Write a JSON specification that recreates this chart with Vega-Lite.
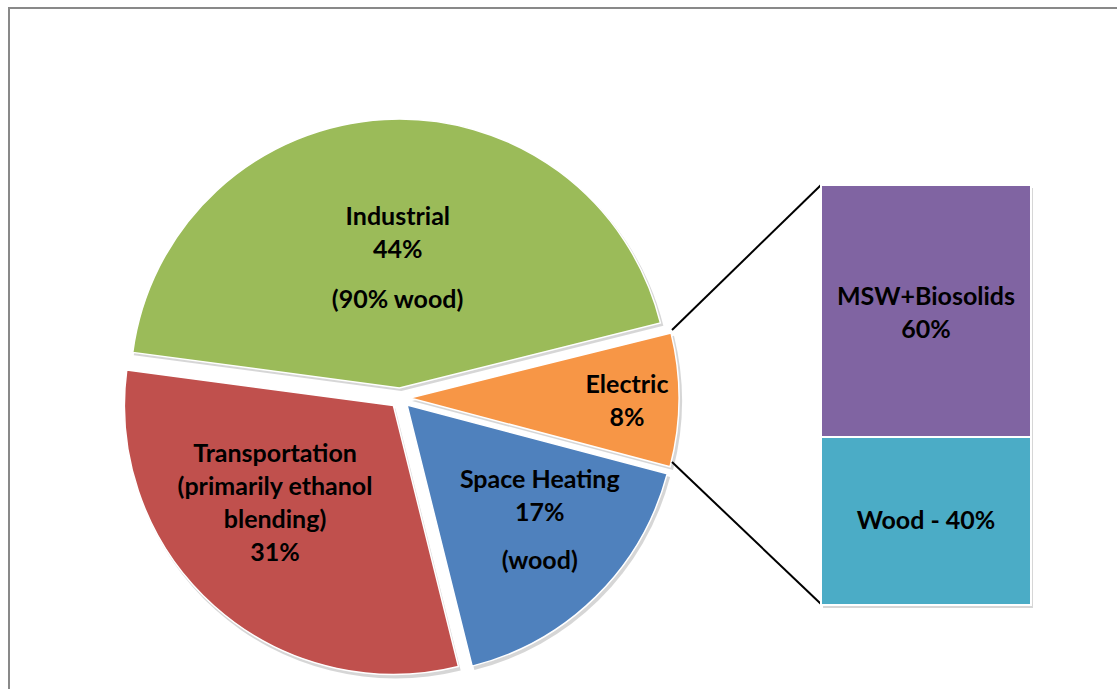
{
  "$schema": "https://vega.github.io/schema/vega-lite/v6.json",
  "width": 1117,
  "height": 689,
  "autosize": {"type": "fit", "contains": "padding"},
  "padding": {"left": 9, "top": 8, "right": -20, "bottom": -20},
  "background": "white",
  "config": {"view": {"stroke": "#898989", "strokeWidth": 2}},
  "datasets": {
    "pie": [
      {"sector": "Electric", "share": 8, "o": 1, "label": "Electric\n8%", "note": ""},
      {"sector": "Space Heating", "share": 17, "o": 2, "label": "Space Heating\n17%", "note": "(wood)"},
      {"sector": "Transportation", "share": 31, "o": 3, "label": "Transportation\n(primarily ethanol\nblending)\n31%", "note": ""},
      {"sector": "Industrial", "share": 44, "o": 4, "label": "Industrial\n44%", "note": "(90% wood)"}
    ],
    "electric": [
      {"group": "Electric", "sector": "Wood", "share": 40, "o": 1, "label": "Wood - 40%"},
      {"group": "Electric", "sector": "MSW+Biosolids", "share": 60, "o": 2, "label": "MSW+Biosolids\n60%"}
    ]
  },
  "layer": [
    {
      "data": {"name": "pie"},
      "mark": {"type": "arc", "x": 403, "y": 393, "outerRadius": 270, "color": "black", "strokeWidth": 0},
      "encoding": {
        "theta": {"field": "share", "type": "quantitative", "stack": true, "scale": {"domain": [0, 100], "range": [1.3265, 7.6097]}},
        "order": {"field": "o"},
        "opacity": {"condition": {"test": "datum.sector === 'Electric'", "value": 0.16}, "value": 0}
      }
    },
    {
      "data": {"name": "pie"},
      "mark": {"type": "arc", "x": 400.1, "y": 400.1, "outerRadius": 270, "color": "black", "strokeWidth": 0},
      "encoding": {
        "theta": {"field": "share", "type": "quantitative", "stack": true, "scale": {"domain": [0, 100], "range": [1.3265, 7.6097]}},
        "order": {"field": "o"},
        "opacity": {"condition": {"test": "datum.sector === 'Space Heating'", "value": 0.16}, "value": 0}
      }
    },
    {
      "data": {"name": "pie"},
      "mark": {"type": "arc", "x": 386.4, "y": 400.5, "outerRadius": 270, "color": "black", "strokeWidth": 0},
      "encoding": {
        "theta": {"field": "share", "type": "quantitative", "stack": true, "scale": {"domain": [0, 100], "range": [1.3265, 7.6097]}},
        "order": {"field": "o"},
        "opacity": {"condition": {"test": "datum.sector === 'Transportation'", "value": 0.16}, "value": 0}
      }
    },
    {
      "data": {"name": "pie"},
      "mark": {"type": "arc", "x": 392.4, "y": 383, "outerRadius": 270, "color": "black", "strokeWidth": 0},
      "encoding": {
        "theta": {"field": "share", "type": "quantitative", "stack": true, "scale": {"domain": [0, 100], "range": [1.3265, 7.6097]}},
        "order": {"field": "o"},
        "opacity": {"condition": {"test": "datum.sector === 'Industrial'", "value": 0.16}, "value": 0}
      }
    },
    {
      "data": {"name": "pie"},
      "mark": {"type": "arc", "x": 401, "y": 390, "outerRadius": 269, "stroke": "white", "strokeWidth": 1.5},
      "encoding": {
        "theta": {"field": "share", "type": "quantitative", "stack": true, "scale": {"domain": [0, 100], "range": [1.3265, 7.6097]}},
        "order": {"field": "o"},
        "color": {"field": "sector", "type": "nominal", "scale": {"domain": ["Electric", "Space Heating", "Transportation", "Industrial", "MSW+Biosolids", "Wood"], "range": ["#F79646", "#4F81BD", "#C0504D", "#9BBB59", "#8064A2", "#4BACC6"]}, "legend": null},
        "opacity": {"condition": {"test": "datum.sector === 'Electric'", "value": 1}, "value": 0}
      }
    },
    {
      "data": {"name": "pie"},
      "mark": {"type": "arc", "x": 398.1, "y": 397.1, "outerRadius": 269, "stroke": "white", "strokeWidth": 1.5},
      "encoding": {
        "theta": {"field": "share", "type": "quantitative", "stack": true, "scale": {"domain": [0, 100], "range": [1.3265, 7.6097]}},
        "order": {"field": "o"},
        "color": {"field": "sector", "type": "nominal", "scale": {"domain": ["Electric", "Space Heating", "Transportation", "Industrial", "MSW+Biosolids", "Wood"], "range": ["#F79646", "#4F81BD", "#C0504D", "#9BBB59", "#8064A2", "#4BACC6"]}, "legend": null},
        "opacity": {"condition": {"test": "datum.sector === 'Space Heating'", "value": 1}, "value": 0}
      }
    },
    {
      "data": {"name": "pie"},
      "mark": {"type": "arc", "x": 384.4, "y": 397.5, "outerRadius": 269, "stroke": "white", "strokeWidth": 1.5},
      "encoding": {
        "theta": {"field": "share", "type": "quantitative", "stack": true, "scale": {"domain": [0, 100], "range": [1.3265, 7.6097]}},
        "order": {"field": "o"},
        "color": {"field": "sector", "type": "nominal", "scale": {"domain": ["Electric", "Space Heating", "Transportation", "Industrial", "MSW+Biosolids", "Wood"], "range": ["#F79646", "#4F81BD", "#C0504D", "#9BBB59", "#8064A2", "#4BACC6"]}, "legend": null},
        "opacity": {"condition": {"test": "datum.sector === 'Transportation'", "value": 1}, "value": 0}
      }
    },
    {
      "data": {"name": "pie"},
      "mark": {"type": "arc", "x": 390.4, "y": 380, "outerRadius": 269, "stroke": "white", "strokeWidth": 1.5},
      "encoding": {
        "theta": {"field": "share", "type": "quantitative", "stack": true, "scale": {"domain": [0, 100], "range": [1.3265, 7.6097]}},
        "order": {"field": "o"},
        "color": {"field": "sector", "type": "nominal", "scale": {"domain": ["Electric", "Space Heating", "Transportation", "Industrial", "MSW+Biosolids", "Wood"], "range": ["#F79646", "#4F81BD", "#C0504D", "#9BBB59", "#8064A2", "#4BACC6"]}, "legend": null},
        "opacity": {"condition": {"test": "datum.sector === 'Industrial'", "value": 1}, "value": 0}
      }
    },
    {
      "data": {"name": "pie"},
      "mark": {"type": "text", "x": 391, "y": 390, "radius": 227, "dy": -15, "font": "Lato", "fontWeight": "bold", "fontSize": 25, "lineHeight": 33, "lineBreak": "\n", "color": "black"},
      "encoding": {
        "theta": {"field": "share", "type": "quantitative", "stack": true, "scale": {"domain": [0, 100], "range": [1.3265, 7.6097]}},
        "order": {"field": "o"},
        "text": {"condition": {"test": "datum.sector === 'Electric'", "field": "label", "type": "nominal"}, "value": ""}
      }
    },
    {
      "data": {"name": "pie"},
      "mark": {"type": "text", "x": 391, "y": 390, "radius": 172, "dx": 19, "dy": -40, "font": "Lato", "fontWeight": "bold", "fontSize": 25, "lineHeight": 33, "lineBreak": "\n", "color": "black"},
      "encoding": {
        "theta": {"field": "share", "type": "quantitative", "stack": true, "scale": {"domain": [0, 100], "range": [1.3265, 7.6097]}},
        "order": {"field": "o"},
        "text": {"condition": {"test": "datum.sector === 'Space Heating'", "field": "label", "type": "nominal"}, "value": ""}
      }
    },
    {
      "data": {"name": "pie"},
      "mark": {"type": "text", "x": 391, "y": 390, "radius": 172, "dx": 19, "dy": 41, "font": "Lato", "fontWeight": "bold", "fontSize": 25, "lineHeight": 33, "lineBreak": "\n", "color": "black"},
      "encoding": {
        "theta": {"field": "share", "type": "quantitative", "stack": true, "scale": {"domain": [0, 100], "range": [1.3265, 7.6097]}},
        "order": {"field": "o"},
        "text": {"condition": {"test": "datum.sector === 'Space Heating'", "field": "note", "type": "nominal"}, "value": ""}
      }
    },
    {
      "data": {"name": "pie"},
      "mark": {"type": "text", "x": 391, "y": 390, "radius": 162, "dx": -17, "dy": -65, "font": "Lato", "fontWeight": "bold", "fontSize": 25, "lineHeight": 33, "lineBreak": "\n", "color": "black"},
      "encoding": {
        "theta": {"field": "share", "type": "quantitative", "stack": true, "scale": {"domain": [0, 100], "range": [1.3265, 7.6097]}},
        "order": {"field": "o"},
        "text": {"condition": {"test": "datum.sector === 'Transportation'", "field": "label", "type": "nominal"}, "value": ""}
      }
    },
    {
      "data": {"name": "pie"},
      "mark": {"type": "text", "x": 391, "y": 390, "radius": 165, "dx": 7, "dy": -16, "font": "Lato", "fontWeight": "bold", "fontSize": 25, "lineHeight": 33, "lineBreak": "\n", "color": "black"},
      "encoding": {
        "theta": {"field": "share", "type": "quantitative", "stack": true, "scale": {"domain": [0, 100], "range": [1.3265, 7.6097]}},
        "order": {"field": "o"},
        "text": {"condition": {"test": "datum.sector === 'Industrial'", "field": "label", "type": "nominal"}, "value": ""}
      }
    },
    {
      "data": {"name": "pie"},
      "mark": {"type": "text", "x": 391, "y": 390, "radius": 98, "dx": 3, "font": "Lato", "fontWeight": "bold", "fontSize": 25, "lineHeight": 33, "lineBreak": "\n", "color": "black"},
      "encoding": {
        "theta": {"field": "share", "type": "quantitative", "stack": true, "scale": {"domain": [0, 100], "range": [1.3265, 7.6097]}},
        "order": {"field": "o"},
        "text": {"condition": {"test": "datum.sector === 'Industrial'", "field": "note", "type": "nominal"}, "value": ""}
      }
    },
    {
      "data": {"values": [{"edge": "top"}]},
      "mark": {"type": "rule", "color": "black", "strokeWidth": 2},
      "encoding": {"x": {"value": 663}, "y": {"value": 322}, "x2": {"value": 812}, "y2": {"value": 177}}
    },
    {
      "data": {"values": [{"edge": "bottom"}]},
      "mark": {"type": "rule", "color": "black", "strokeWidth": 2},
      "encoding": {"x": {"value": 663}, "y": {"value": 454}, "x2": {"value": 812}, "y2": {"value": 596}}
    },
    {
      "data": {"name": "electric"},
      "mark": {"type": "bar", "color": "black", "opacity": 0.16, "xOffset": 2, "yOffset": 3},
      "encoding": {
        "x": {"field": "group", "type": "nominal", "scale": {"range": [812, 1022], "paddingInner": 0, "paddingOuter": 0}, "axis": null},
        "y": {"field": "share", "type": "quantitative", "stack": "zero", "scale": {"domain": [0, 100], "range": [597, 177]}, "axis": null},
        "order": {"field": "o"}
      }
    },
    {
      "data": {"name": "electric"},
      "mark": {"type": "bar", "stroke": "white", "strokeWidth": 2},
      "encoding": {
        "x": {"field": "group", "type": "nominal", "scale": {"range": [812, 1022], "paddingInner": 0, "paddingOuter": 0}, "axis": null},
        "y": {"field": "share", "type": "quantitative", "stack": "zero", "scale": {"domain": [0, 100], "range": [597, 177]}, "axis": null},
        "order": {"field": "o"},
        "color": {"field": "sector", "type": "nominal", "scale": {"domain": ["Electric", "Space Heating", "Transportation", "Industrial", "MSW+Biosolids", "Wood"], "range": ["#F79646", "#4F81BD", "#C0504D", "#9BBB59", "#8064A2", "#4BACC6"]}, "legend": null}
      }
    },
    {
      "data": {"name": "electric"},
      "mark": {"type": "text", "dy": -14, "font": "Lato", "fontWeight": "bold", "fontSize": 25, "lineHeight": 33, "lineBreak": "\n", "color": "black"},
      "encoding": {
        "x": {"field": "group", "type": "nominal", "scale": {"range": [812, 1022], "paddingInner": 0, "paddingOuter": 0}, "axis": null},
        "y": {"field": "share", "type": "quantitative", "stack": "zero", "bandPosition": 0.5, "scale": {"domain": [0, 100], "range": [597, 177]}, "axis": null},
        "order": {"field": "o"},
        "text": {"condition": {"test": "datum.sector === 'MSW+Biosolids'", "field": "label", "type": "nominal"}, "value": ""}
      }
    },
    {
      "data": {"name": "electric"},
      "mark": {"type": "text", "dy": 0, "font": "Lato", "fontWeight": "bold", "fontSize": 25, "lineHeight": 33, "lineBreak": "\n", "color": "black"},
      "encoding": {
        "x": {"field": "group", "type": "nominal", "scale": {"range": [812, 1022], "paddingInner": 0, "paddingOuter": 0}, "axis": null},
        "y": {"field": "share", "type": "quantitative", "stack": "zero", "bandPosition": 0.5, "scale": {"domain": [0, 100], "range": [597, 177]}, "axis": null},
        "order": {"field": "o"},
        "text": {"condition": {"test": "datum.sector === 'Wood'", "field": "label", "type": "nominal"}, "value": ""}
      }
    }
  ]
}
